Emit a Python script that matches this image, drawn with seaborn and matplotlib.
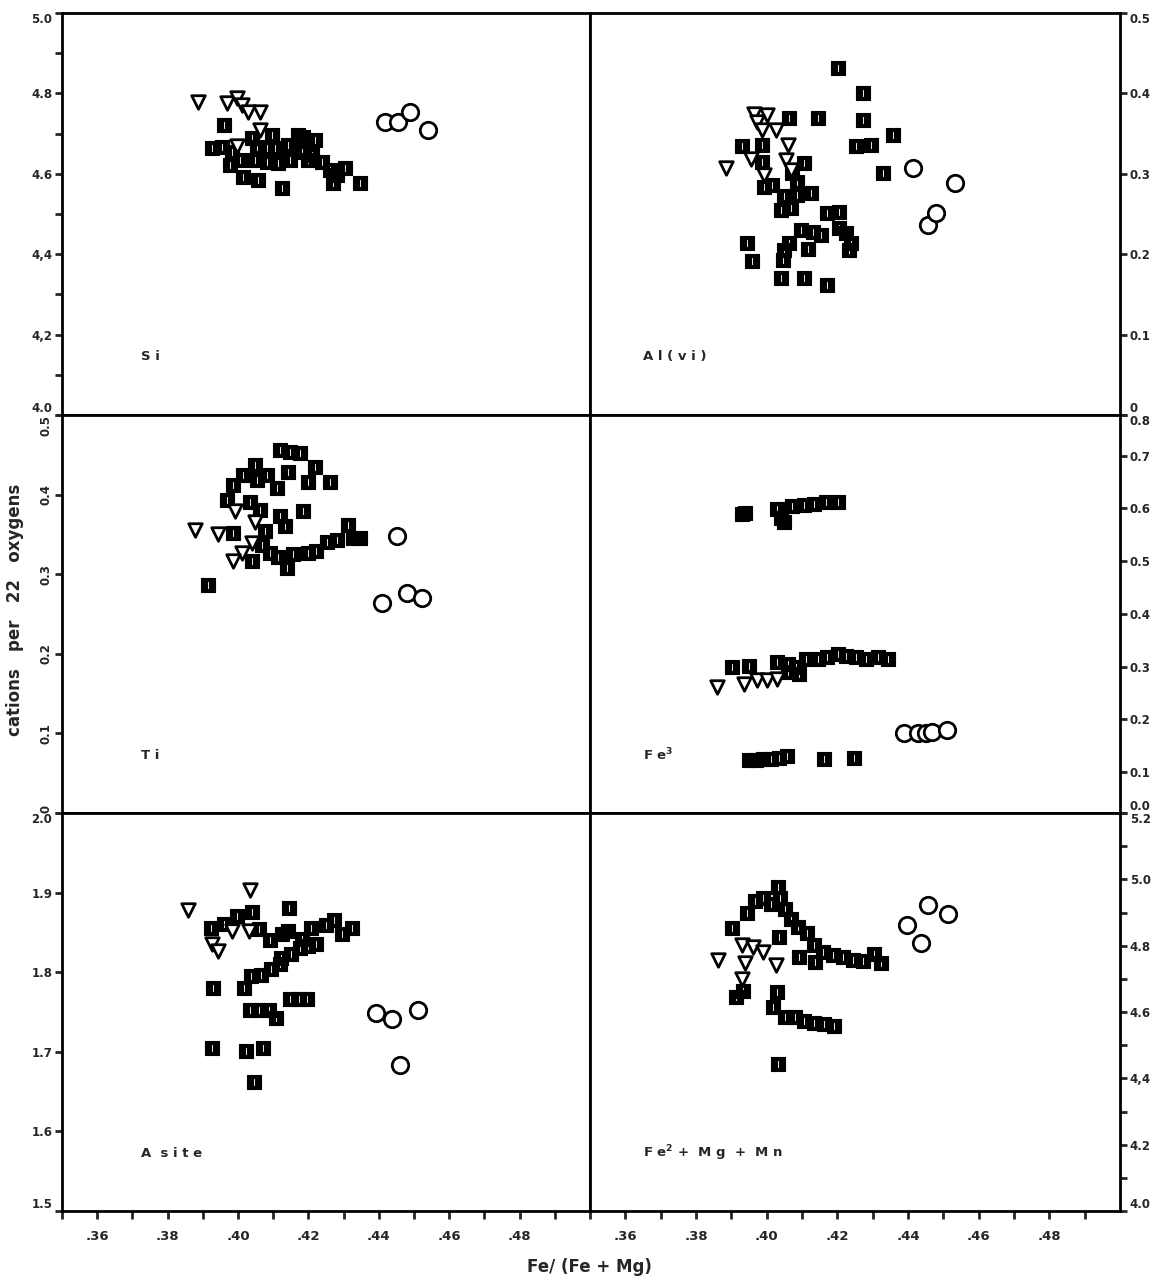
import numpy as np
import matplotlib
matplotlib.use("Agg")
import matplotlib.pyplot as plt
from matplotlib.path import Path
import seaborn as sns

sns.set_style("ticks")
plt.rcParams['font.family'] = ['DejaVu Sans']
plt.rcParams['font.weight'] = 'bold'

# ---- data: x = Fe/(Fe+Mg) ----
# Si
si_sq_x = [0.3961, 0.3925, 0.3954, 0.3982, 0.3977, 0.4006, 0.4015, 0.4039, 0.4053, 0.4048, 0.4058,
           0.4082, 0.4096, 0.4105, 0.4115, 0.4124, 0.4143, 0.4148, 0.4171, 0.4181, 0.4200, 0.4219,
           0.4209, 0.4238, 0.4261, 0.4280, 0.4304, 0.4271, 0.4347, 0.4185, 0.4082]
si_sq_y = [4.721, 4.663, 4.667, 4.655, 4.622, 4.634, 4.593, 4.688, 4.667, 4.634, 4.585,
           4.630, 4.697, 4.663, 4.626, 4.564, 4.672, 4.634, 4.697, 4.655, 4.634, 4.684,
           4.647, 4.630, 4.609, 4.597, 4.614, 4.577, 4.577, 4.692, 4.663]
si_tri_x = [0.3887, 0.3968, 0.3998, 0.4011, 0.4027, 0.4063, 0.4063, 0.3998]
si_tri_y = [4.779, 4.777, 4.788, 4.771, 4.753, 4.754, 4.709, 4.670]
si_ci_x = [0.4418, 0.4455, 0.4489, 0.4539]
si_ci_y = [4.730, 4.730, 4.754, 4.709]

# Al(vi)
al_sq_x = [0.4201, 0.4272, 0.4272, 0.4063, 0.4144, 0.4357, 0.4253, 0.4295, 0.4329, 0.3931, 0.3988,
           0.3988, 0.4106, 0.4073, 0.3992, 0.4016, 0.4049, 0.4087, 0.4087, 0.4125, 0.4040, 0.4068,
           0.4172, 0.4205, 0.4097, 0.4130, 0.4153, 0.4205, 0.4224, 0.4239, 0.4234, 0.4063, 0.4116,
           0.3945, 0.3959, 0.4045, 0.4040, 0.4106, 0.4172, 0.4049]
al_sq_y = [0.431, 0.400, 0.367, 0.369, 0.369, 0.348, 0.334, 0.336, 0.301, 0.334, 0.336,
           0.315, 0.313, 0.301, 0.284, 0.286, 0.272, 0.290, 0.274, 0.276, 0.255, 0.257,
           0.251, 0.253, 0.230, 0.228, 0.224, 0.232, 0.226, 0.214, 0.205, 0.214, 0.207,
           0.214, 0.191, 0.193, 0.170, 0.170, 0.162, 0.205]
al_tri_x = [0.3964, 0.4002, 0.3973, 0.3988, 0.4026, 0.4059, 0.3955, 0.4054, 0.3884, 0.3992, 0.4068]
al_tri_y = [0.375, 0.373, 0.365, 0.354, 0.354, 0.336, 0.319, 0.317, 0.307, 0.299, 0.305]
al_ci_x = [0.4414, 0.4532, 0.4457, 0.4480]
al_ci_y = [0.307, 0.288, 0.236, 0.251]

# Ti
ti_sq_x = [0.4119, 0.4148, 0.4176, 0.4219, 0.4048, 0.4015, 0.3987, 0.4053, 0.4082, 0.4110, 0.4143,
           0.4200, 0.4261, 0.3968, 0.4034, 0.4063, 0.4119, 0.4134, 0.4185, 0.3987, 0.4077, 0.4067,
           0.4091, 0.4039, 0.4114, 0.4138, 0.4157, 0.4200, 0.4252, 0.4280, 0.4313, 0.4347, 0.4328,
           0.3916, 0.4223]
ti_sq_y = [0.456, 0.454, 0.452, 0.435, 0.437, 0.425, 0.412, 0.418, 0.425, 0.408, 0.429,
           0.416, 0.416, 0.393, 0.391, 0.381, 0.373, 0.360, 0.379, 0.352, 0.354, 0.337,
           0.327, 0.316, 0.321, 0.308, 0.325, 0.327, 0.341, 0.343, 0.362, 0.345, 0.345,
           0.287, 0.329]
ti_tri_x = [0.3878, 0.3944, 0.3991, 0.4048, 0.4039, 0.4010, 0.3987]
ti_tri_y = [0.356, 0.350, 0.379, 0.366, 0.339, 0.327, 0.316]
ti_ci_x = [0.4451, 0.4408, 0.4479, 0.4522]
ti_ci_y = [0.348, 0.264, 0.277, 0.270]

# Fe3
fe3_sq_x = [0.3929, 0.3940, 0.4030, 0.4040, 0.4049, 0.4073, 0.4106, 0.4134, 0.4168, 0.4201,
            0.3903, 0.3950, 0.4030, 0.4059, 0.4082, 0.4111, 0.4144, 0.4172, 0.4201, 0.4224,
            0.4253, 0.4281, 0.4314, 0.4343, 0.4059, 0.4092,
            0.3949, 0.3969, 0.3991, 0.4011, 0.4034, 0.4057, 0.4162, 0.4247]
fe3_sq_y = [0.589, 0.592, 0.598, 0.581, 0.575, 0.604, 0.606, 0.608, 0.613, 0.613,
            0.299, 0.302, 0.308, 0.305, 0.299, 0.315, 0.315, 0.318, 0.324, 0.321,
            0.318, 0.315, 0.318, 0.315, 0.289, 0.286,
            0.123, 0.123, 0.125, 0.125, 0.126, 0.130, 0.125, 0.126]
fe3_tri_x = [0.3860, 0.3936, 0.3974, 0.4002, 0.4030]
fe3_tri_y = [0.261, 0.267, 0.274, 0.274, 0.277]
fe3_ci_x = [0.4389, 0.4429, 0.4452, 0.4469, 0.4511]
fe3_ci_y = [0.175, 0.175, 0.175, 0.177, 0.179]

# A site
as_sq_x = [0.3922, 0.3960, 0.3997, 0.4040, 0.4060, 0.4091, 0.4125, 0.4145, 0.4142, 0.4182,
           0.4208, 0.4250, 0.4273, 0.4295, 0.4324, 0.4122, 0.4150, 0.4177, 0.4199, 0.4222,
           0.4037, 0.4065, 0.4094, 0.4119, 0.4148, 0.4173, 0.4196, 0.4034, 0.4060, 0.4088,
           0.4108, 0.3929, 0.4018, 0.3925, 0.4023, 0.4071, 0.4046]
as_sq_y = [1.856, 1.860, 1.870, 1.876, 1.854, 1.841, 1.848, 1.881, 1.852, 1.842,
           1.855, 1.859, 1.865, 1.848, 1.856, 1.818, 1.823, 1.830, 1.833, 1.836,
           1.795, 1.797, 1.804, 1.810, 1.766, 1.766, 1.766, 1.752, 1.752, 1.752,
           1.742, 1.780, 1.780, 1.705, 1.701, 1.705, 1.662]
as_tri_x = [0.3858, 0.4034, 0.3926, 0.3943, 0.3983, 0.4031]
as_tri_y = [1.878, 1.903, 1.835, 1.827, 1.852, 1.852]
as_ci_x = [0.4392, 0.4438, 0.4511, 0.4460]
as_ci_y = [1.749, 1.741, 1.752, 1.683]

# Fe2 + Mg + Mn
fm_sq_x = [0.3901, 0.3943, 0.3966, 0.3991, 0.4011, 0.4031, 0.4037, 0.4051, 0.4034, 0.4068,
           0.4088, 0.4114, 0.4134, 0.4159, 0.4188, 0.4216, 0.4244, 0.4273, 0.4304, 0.4324,
           0.4136, 0.4091, 0.3912, 0.3932, 0.4028, 0.4017, 0.4051, 0.4080, 0.4105, 0.4134,
           0.4162, 0.4190, 0.4031]
fm_sq_y = [4.852, 4.897, 4.936, 4.945, 4.927, 4.978, 4.945, 4.912, 4.825, 4.879,
           4.855, 4.837, 4.801, 4.780, 4.771, 4.765, 4.756, 4.753, 4.774, 4.747,
           4.750, 4.765, 4.644, 4.662, 4.659, 4.614, 4.584, 4.584, 4.572, 4.566,
           4.563, 4.557, 4.443]
fm_tri_x = [0.3861, 0.3929, 0.3960, 0.3989, 0.3938, 0.3929, 0.4026]
fm_tri_y = [4.756, 4.801, 4.795, 4.780, 4.747, 4.698, 4.741]
fm_ci_x = [0.4398, 0.4438, 0.4457, 0.4514]
fm_ci_y = [4.861, 4.807, 4.924, 4.894]

# black box with a thin white slit, like the plotter's symbol
sq_path = Path(
    [(-0.45, -0.5), (0.45, -0.5), (0.45, 0.5), (-0.45, 0.5), (-0.45, -0.5),
     (-0.06, -0.25), (-0.06, 0.25), (0.06, 0.25), (0.06, -0.25), (-0.06, -0.25)],
    [Path.MOVETO, Path.LINETO, Path.LINETO, Path.LINETO, Path.CLOSEPOLY,
     Path.MOVETO, Path.LINETO, Path.LINETO, Path.LINETO, Path.CLOSEPOLY])

fig = plt.figure(figsize=(11.63, 12.85), dpi=100)
W, H = 1163, 1285
rows = [(13, 415), (415, 813), (813, 1211)]
cols = [(62, 590), (590, 1120)]

panels = [
    (si_sq_x, si_sq_y, si_tri_x, si_tri_y, si_ci_x, si_ci_y, "S i", (4.0, 5.0)),
    (al_sq_x, al_sq_y, al_tri_x, al_tri_y, al_ci_x, al_ci_y, "A l ( v i )", (0.0, 0.5)),
    (ti_sq_x, ti_sq_y, ti_tri_x, ti_tri_y, ti_ci_x, ti_ci_y, "T i", (0.0, 0.5)),
    (fe3_sq_x, fe3_sq_y, fe3_tri_x, fe3_tri_y, fe3_ci_x, fe3_ci_y, "F e$^{3}$", (0.0226, 0.777)),
    (as_sq_x, as_sq_y, as_tri_x, as_tri_y, as_ci_x, as_ci_y, "A  s i t e", (1.5, 2.0)),
    (fm_sq_x, fm_sq_y, fm_tri_x, fm_tri_y, fm_ci_x, fm_ci_y, "F e$^{2}$ +  M g  +  M n", (4.0, 5.2)),
]

for i, (sx, sy, tx, ty, cx, cy, name, ylim) in enumerate(panels):
    r, c = divmod(i, 2)
    y0, y1 = rows[r]
    x0, x1 = cols[c]
    ax = fig.add_axes([x0 / W, (H - y1) / H, (x1 - x0) / W, (y1 - y0) / H])

    sns.scatterplot(x=sx, y=sy, marker=sq_path, s=115, color="black", edgecolor="black",
                    linewidth=0.8, ax=ax, zorder=2)
    sns.scatterplot(x=tx, y=ty, marker="v", s=95, color="white", edgecolor="black",
                    linewidth=2.0, ax=ax, zorder=3)
    sns.scatterplot(x=cx, y=cy, marker="o", s=140, color="white", edgecolor="black",
                    linewidth=2.0, ax=ax, zorder=3)

    ax.set_xlim(0.35, 0.50)
    ax.set_ylim(*ylim)
    for sp in ax.spines.values():
        sp.set_visible(True)
        sp.set_linewidth(2.0)
        sp.set_color("black")

    if r == 2:
        ax.set_xticks(np.arange(0.36, 0.49, 0.02))
        ax.set_xticklabels([".36", ".38", ".40", ".42", ".44", ".46", ".48"])
        ax.set_xticks(np.arange(0.35, 0.505, 0.02), minor=True)
        ax.tick_params(axis="x", which="both", direction="out", length=6, width=2,
                       labelsize=9.5, pad=8)
    else:
        ax.set_xticks([])

    side = "left" if c == 0 else "right"
    ax.yaxis.set_ticks_position(side)
    ax.tick_params(axis="y", which="both", direction="out", length=5, width=2,
                   labelsize=8.5, pad=2)
    if side == "right":
        ax.tick_params(axis="y", labelright=True, labelleft=False)

    if i == 0:
        ax.set_yticks(np.arange(4.0, 5.01, 0.2))
        ax.set_yticklabels(["4.0", "4,2", "4,4", "4.6", "4.8", "5.0"])
        ax.set_yticks(np.arange(4.1, 5.0, 0.2), minor=True)
    elif i in (1, 2):
        ax.set_yticks(np.arange(0.0, 0.51, 0.1))
        ax.set_yticklabels(["0", "0.1", "0.2", "0.3", "0.4", "0.5"])
    elif i == 3:
        ax.set_yticks([0.0226, 0.1, 0.2, 0.3, 0.4, 0.5, 0.6, 0.7, 0.777])
        ax.set_yticklabels(["0.0", "0.1", "0.2", "0.3", "0.4", "0.5", "0.6", "0.7", "0.8"])
    elif i == 4:
        ax.set_yticks(np.arange(1.5, 2.01, 0.1))
        ax.set_yticklabels(["1.5", "1.6", "1.7", "1.8", "1.9", "2.0"])
    else:
        ax.set_yticks(np.arange(4.0, 5.21, 0.2))
        ax.set_yticklabels(["4.0", "4.2", "4,4", "4.6", "4.8", "5.0", "5.2"])
        ax.set_yticks(np.arange(4.1, 5.2, 0.2), minor=True)

    labs = ax.get_yticklabels()
    if i == 2:
        # the Ti scale is lettered sideways on the original
        for lab in labs:
            lab.set_rotation(90)
            lab.set_va("center")
        labs[0].set_va("bottom")
        labs[-1].set_va("top")
    else:
        # end labels sit just inside the frame, as in the original
        labs[0].set_va("bottom")
        labs[-1].set_va("top")
    for lab in ax.get_yticklabels() + ax.get_xticklabels():
        lab.set_fontweight("bold")

    ax.set_xlabel("")
    ax.set_ylabel("")
    ax.text(0.15 if c == 0 else 0.10, 0.145, name, transform=ax.transAxes,
            fontsize=9.5, fontweight="bold", ha="left", va="center")

fig.text(0.013, 0.525, "cations   per   22   oxygens", rotation=90, ha="center", va="center",
         fontsize=12, fontweight="bold")
fig.text(0.507, 0.014, "Fe/ (Fe + Mg)", ha="center", va="center", fontsize=12, fontweight="bold")

fig.savefig("out.png", dpi=100)
